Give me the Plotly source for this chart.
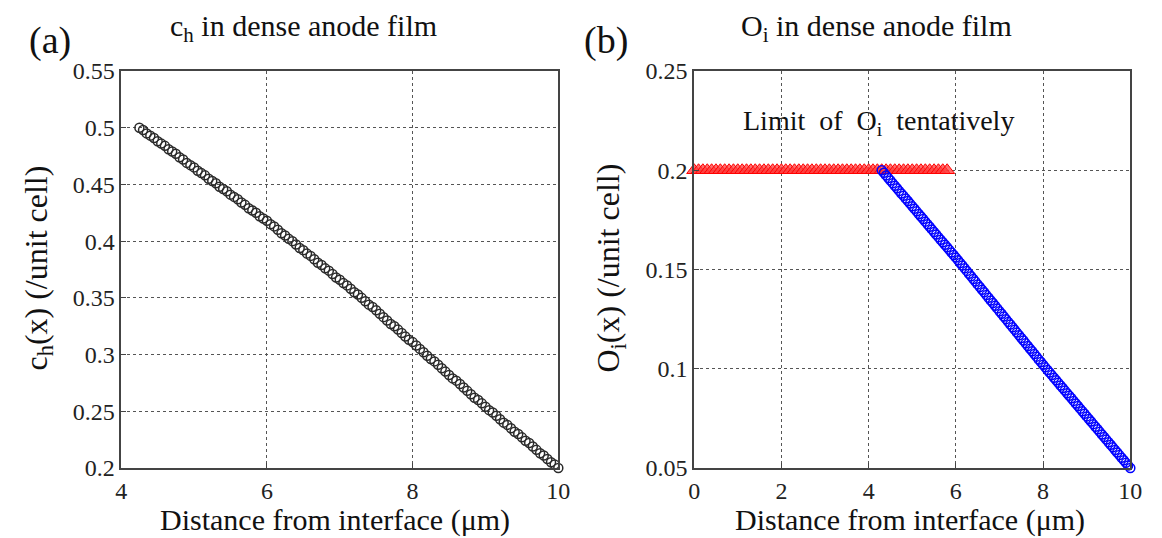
import plotly.graph_objects as go

# ---------------- data ----------------
ch_x = [4.25, 4.30, 4.35, 4.40, 4.45, 4.50, 4.55, 4.60, 4.65, 4.70, 4.75, 4.80, 4.85, 4.90, 4.95,
        5.00, 5.05, 5.10, 5.15, 5.20, 5.25, 5.30, 5.35, 5.40, 5.45, 5.50, 5.55, 5.60, 5.65, 5.70,
        5.75, 5.80, 5.85, 5.90, 5.95, 6.00, 6.05, 6.10, 6.15, 6.20, 6.25, 6.30, 6.35, 6.40, 6.45,
        6.50, 6.55, 6.60, 6.65, 6.70, 6.75, 6.80, 6.85, 6.90, 6.95, 7.00, 7.05, 7.10, 7.15, 7.20,
        7.25, 7.30, 7.35, 7.40, 7.45, 7.50, 7.55, 7.60, 7.65, 7.70, 7.75, 7.80, 7.85, 7.90, 7.95,
        8.00, 8.05, 8.10, 8.15, 8.20, 8.25, 8.30, 8.35, 8.40, 8.45, 8.50, 8.55, 8.60, 8.65, 8.70,
        8.75, 8.80, 8.85, 8.90, 8.95, 9.00, 9.05, 9.10, 9.15, 9.20, 9.25, 9.30, 9.35, 9.40, 9.45,
        9.50, 9.55, 9.60, 9.65, 9.70, 9.75, 9.80, 9.85, 9.90, 9.95, 10.00]
ch_y = [0.500, 0.498, 0.495, 0.493, 0.491, 0.488, 0.486, 0.484, 0.481, 0.479, 0.477, 0.474, 0.472, 0.469, 0.467,
        0.465, 0.462, 0.460, 0.458, 0.455, 0.453, 0.451, 0.448, 0.446, 0.444, 0.441, 0.439, 0.437, 0.434, 0.432,
        0.429, 0.427, 0.425, 0.422, 0.420, 0.418, 0.415, 0.413, 0.410, 0.407, 0.405, 0.402, 0.400, 0.397, 0.394,
        0.392, 0.389, 0.387, 0.384, 0.381, 0.379, 0.376, 0.374, 0.371, 0.368, 0.366, 0.363, 0.361, 0.358, 0.355,
        0.353, 0.350, 0.347, 0.344, 0.342, 0.339, 0.336, 0.333, 0.330, 0.327, 0.325, 0.322, 0.319, 0.316, 0.313,
        0.311, 0.308, 0.305, 0.302, 0.299, 0.296, 0.294, 0.291, 0.288, 0.285, 0.282, 0.279, 0.277, 0.274, 0.271,
        0.268, 0.265, 0.262, 0.260, 0.257, 0.254, 0.251, 0.249, 0.246, 0.243, 0.240, 0.238, 0.235, 0.232, 0.230,
        0.227, 0.224, 0.222, 0.219, 0.216, 0.213, 0.211, 0.208, 0.205, 0.203, 0.200]

limit_x = [0.0, 0.1, 0.2, 0.3, 0.4, 0.5, 0.6, 0.7, 0.8, 0.9, 1.0, 1.1, 1.2, 1.3, 1.4, 1.5, 1.6, 1.7, 1.8, 1.9,
           2.0, 2.1, 2.2, 2.3, 2.4, 2.5, 2.6, 2.7, 2.8, 2.9, 3.0, 3.1, 3.2, 3.3, 3.4, 3.5, 3.6, 3.7, 3.8, 3.9,
           4.0, 4.1, 4.2, 4.3, 4.4, 4.5, 4.6, 4.7, 4.8, 4.9, 5.0, 5.1, 5.2, 5.3, 5.4, 5.5, 5.6, 5.7, 5.8]
limit_value = 0.2
limit_y = [limit_value] * len(limit_x)

oi_x = [4.30, 4.35, 4.40, 4.45, 4.50, 4.55, 4.60, 4.65, 4.70, 4.75, 4.80, 4.85, 4.90, 4.95,
        5.00, 5.05, 5.10, 5.15, 5.20, 5.25, 5.30, 5.35, 5.40, 5.45, 5.50, 5.55, 5.60, 5.65, 5.70,
        5.75, 5.80, 5.85, 5.90, 5.95, 6.00, 6.05, 6.10, 6.15, 6.20, 6.25, 6.30, 6.35, 6.40, 6.45,
        6.50, 6.55, 6.60, 6.65, 6.70, 6.75, 6.80, 6.85, 6.90, 6.95, 7.00, 7.05, 7.10, 7.15, 7.20,
        7.25, 7.30, 7.35, 7.40, 7.45, 7.50, 7.55, 7.60, 7.65, 7.70, 7.75, 7.80, 7.85, 7.90, 7.95,
        8.00, 8.05, 8.10, 8.15, 8.20, 8.25, 8.30, 8.35, 8.40, 8.45, 8.50, 8.55, 8.60, 8.65, 8.70,
        8.75, 8.80, 8.85, 8.90, 8.95, 9.00, 9.05, 9.10, 9.15, 9.20, 9.25, 9.30, 9.35, 9.40, 9.45,
        9.50, 9.55, 9.60, 9.65, 9.70, 9.75, 9.80, 9.85, 9.90, 9.95, 10.00]
oi_y = [0.2000, 0.1987, 0.1974, 0.1961, 0.1948, 0.1935, 0.1922, 0.1909, 0.1896, 0.1883, 0.1871, 0.1858, 0.1845, 0.1832,
        0.1819, 0.1806, 0.1793, 0.1780, 0.1767, 0.1754, 0.1741, 0.1728, 0.1715, 0.1702, 0.1689, 0.1676, 0.1663, 0.1650, 0.1637,
        0.1625, 0.1612, 0.1599, 0.1586, 0.1573, 0.1560, 0.1547, 0.1533, 0.1520, 0.1506, 0.1493, 0.1479, 0.1466, 0.1452, 0.1439,
        0.1425, 0.1412, 0.1398, 0.1385, 0.1371, 0.1358, 0.1344, 0.1331, 0.1317, 0.1304, 0.1290, 0.1277, 0.1263, 0.1250, 0.1236,
        0.1223, 0.1209, 0.1196, 0.1182, 0.1169, 0.1155, 0.1142, 0.1128, 0.1115, 0.1101, 0.1088, 0.1074, 0.1061, 0.1047, 0.1034,
        0.1020, 0.1007, 0.0994, 0.0981, 0.0968, 0.0955, 0.0942, 0.0929, 0.0916, 0.0903, 0.0890, 0.0877, 0.0864, 0.0851, 0.0838,
        0.0825, 0.0812, 0.0799, 0.0786, 0.0773, 0.0760, 0.0747, 0.0734, 0.0721, 0.0708, 0.0695, 0.0682, 0.0669, 0.0656, 0.0643,
        0.0630, 0.0617, 0.0604, 0.0591, 0.0578, 0.0565, 0.0552, 0.0539, 0.0526, 0.0513, 0.0500]

left_xticks = [4, 6, 8, 10]
left_yticks = [0.2, 0.25, 0.3, 0.35, 0.4, 0.45, 0.5, 0.55]
right_xticks = [0, 2, 4, 6, 8, 10]
right_yticks = [0.05, 0.1, 0.15, 0.2, 0.25]

# ---------------- figure ----------------
FONT = "Liberation Serif, Times New Roman, serif"
W, H = 1162, 538
MT, MB = 71, 70

fig = go.Figure()
fig.add_trace(go.Scatter(x=ch_x, y=ch_y, mode="markers", xaxis="x", yaxis="y",
                         marker=dict(symbol="circle-open", size=9, color="#2a2a2a",
                                     line=dict(width=1.5)),
                         cliponaxis=False, showlegend=False))
fig.add_trace(go.Scatter(x=limit_x, y=limit_y, mode="markers", xaxis="x2", yaxis="y2",
                         marker=dict(symbol="triangle-up", size=13, color="rgba(255,60,60,0.75)",
                                     line=dict(width=1, color="#ff0000")),
                         cliponaxis=False, showlegend=False))
fig.add_trace(go.Scatter(x=oi_x, y=oi_y, mode="markers", xaxis="x2", yaxis="y2",
                         marker=dict(symbol="circle-open", size=9, color="#0000ff",
                                     line=dict(width=1.5)),
                         cliponaxis=False, showlegend=False))

axis_common = dict(showline=True, mirror=True, linecolor="#444444", linewidth=1.5,
                   showgrid=True, gridcolor="#555555", gridwidth=1.3, griddash="3px,3px",
                   zeroline=False, ticks="inside", ticklen=5, tickcolor="#444444",
                   tickfont=dict(family=FONT, size=24, color="#222222"))

x0, x1 = 117 / W, 561 / W
x2, x3 = 699 / W, 1142 / W

fig.update_layout(
    width=W, height=H,
    margin=dict(l=0, r=0, t=MT, b=MB),
    paper_bgcolor="white", plot_bgcolor="white",
    xaxis=dict(domain=[x0, x1], range=[4, 10], tickvals=left_xticks, anchor="y", **axis_common),
    yaxis=dict(domain=[0, 1], range=[0.2, 0.55], tickvals=left_yticks, anchor="x", **axis_common),
    xaxis2=dict(domain=[x2, x3], range=[0, 10], tickvals=right_xticks, anchor="y2", **axis_common),
    yaxis2=dict(domain=[0, 1], range=[0.05, 0.25], tickvals=right_yticks, anchor="x2", **axis_common),
)


def py(ypix):
    """pixel row -> paper y (paper spans the plot area vertically)"""
    return (H - MB - ypix) / (H - MT - MB)


dark = "#111111"
annots = [
    dict(text="(a)", x=45 / W, y=py(40), font=dict(family=FONT, size=38, color=dark)),
    dict(text="(b)", x=609 / W, y=py(40), font=dict(family=FONT, size=38, color=dark)),
    dict(text="c<sub>h</sub> in dense anode film", x=302 / W, y=py(28),
         font=dict(family=FONT, size=30, color=dark)),
    dict(text="O<sub>i</sub> in dense anode film", x=884 / W, y=py(28),
         font=dict(family=FONT, size=30, color=dark)),
    dict(text="Distance from interface (μm)", x=334 / W, y=py(520),
         font=dict(family=FONT, size=30, color=dark)),
    dict(text="Distance from interface (μm)", x=918 / W, y=py(520),
         font=dict(family=FONT, size=30, color=dark)),
    dict(text="c<sub>h</sub>(x) (/unit cell)", x=32 / W, y=py(268), textangle=-90,
         font=dict(family=FONT, size=32, color=dark)),
    dict(text="O<sub>i</sub>(x) (/unit cell)", x=614 / W, y=py(268), textangle=-90,
         font=dict(family=FONT, size=32, color=dark)),
    dict(text="Limit  of  O<sub>i</sub>  tentatively", x=886 / W, y=py(122),
         font=dict(family=FONT, size=28, color=dark)),
]
for a in annots:
    fig.add_annotation(xref="paper", yref="paper", showarrow=False,
                       xanchor="center", yanchor="middle", **a)

fig.write_html("out.html")
